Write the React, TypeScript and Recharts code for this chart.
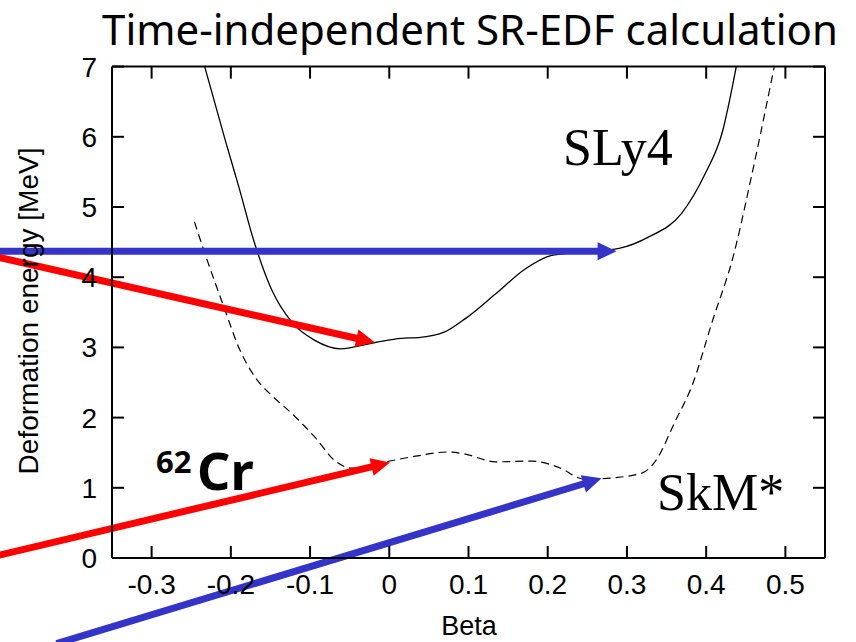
import React from 'react'
import { ComposedChart, Line, XAxis, YAxis, ReferenceLine } from 'recharts'

// SLy4 curve (solid)
const sly4Beta = [
  -0.233, -0.207, -0.19, -0.171, -0.148, -0.123, -0.094, -0.062, -0.018, 0.015, 0.037, 0.07,
  0.096, 0.134, 0.172, 0.205, 0.247, 0.29, 0.327, 0.369, 0.399, 0.42, 0.438,
]
const sly4Energy = [
  7.0, 5.95, 5.29, 4.52, 3.81, 3.36, 3.1, 2.98, 3.07, 3.13, 3.14, 3.22,
  3.41, 3.76, 4.12, 4.31, 4.36, 4.41, 4.57, 4.91, 5.48, 6.05, 7.0,
]

// SkM* curve (dashed)
const skmBeta = [
  -0.246, -0.234, -0.207, -0.19, -0.169, -0.146, -0.127, -0.093, -0.068, -0.047, -0.009, 0.033,
  0.073, 0.096, 0.134, 0.18, 0.214, 0.247, 0.281, 0.319, 0.336, 0.361, 0.382, 0.408, 0.434,
  0.458, 0.486,
]
const skmEnergy = [
  4.79, 4.38, 3.52, 3.0, 2.57, 2.29, 2.1, 1.71, 1.38, 1.28, 1.36, 1.45,
  1.51, 1.48, 1.37, 1.38, 1.29, 1.12, 1.14, 1.21, 1.38, 1.95, 2.45, 3.38, 4.29,
  5.48, 7.0,
]

const xTicks = [-0.3, -0.2, -0.1, 0, 0.1, 0.2, 0.3, 0.4, 0.5]
const yTicks = [0, 1, 2, 3, 4, 5, 6, 7]

// arrows: [beta, energy] start -> end
const arrowColors = ['#3434c8', '#ff0000', '#ff0000', '#3434c8']
const arrowFrom = [
  [-0.5, 4.37],
  [-0.5, 4.3],
  [-0.5, 0.02],
  [-0.42, -1.22],
]
const arrowTo = [
  [0.287, 4.37],
  [-0.018, 3.07],
  [0.001, 1.36],
  [0.268, 1.135],
]

const sly4Data = sly4Beta.map((b, i) => ({ beta: b, e: sly4Energy[i] }))
const skmData = skmBeta.map((b, i) => ({ beta: b, e: skmEnergy[i] }))

const W = 856
const H = 642
const sans = "'Liberation Sans', Arial, Helvetica, sans-serif"
const serif = "'Liberation Serif', 'Times New Roman', serif"
const comic = "'Comic Sans MS', 'Noto Sans', sans-serif"
const TICK = 12
const TICK_FONT = 28

function BottomTick({ x, y, payload }: any) {
  return (
    <g>
      <line x1={x} y1={y} x2={x} y2={y - TICK} stroke="#000" strokeWidth={2} />
      <text x={x} y={y + 36} textAnchor="middle" fontSize={TICK_FONT} fontFamily={sans} fill="#000">
        {payload.value}
      </text>
    </g>
  )
}

function TopTick({ x, y }: any) {
  return <line x1={x} y1={y} x2={x} y2={y + TICK} stroke="#000" strokeWidth={2} />
}

function LeftTick({ x, y, payload }: any) {
  return (
    <g>
      <line x1={x} y1={y} x2={x + TICK} y2={y} stroke="#000" strokeWidth={2} />
      <text x={x - 15} y={y + 10} textAnchor="end" fontSize={TICK_FONT} fontFamily={sans} fill="#000">
        {payload.value}
      </text>
    </g>
  )
}

function RightTick({ x, y }: any) {
  return <line x1={x} y1={y} x2={x - TICK} y2={y} stroke="#000" strokeWidth={2} />
}

function Arrow(props: any) {
  const { x1, y1, x2, y2, color } = props
  const dx = x2 - x1
  const dy = y2 - y1
  const len = Math.sqrt(dx * dx + dy * dy)
  const ux = dx / len
  const uy = dy / len
  const head = 19
  const half = 9
  const bx = x2 - ux * head
  const by = y2 - uy * head
  const pts = `${x2},${y2} ${bx - uy * half},${by + ux * half} ${bx + uy * half},${by - ux * half}`
  return (
    <g>
      <line x1={x1} y1={y1} x2={bx + ux * 2} y2={by + uy * 2} stroke={color} strokeWidth={7} />
      <polygon points={pts} fill={color} />
    </g>
  )
}

export default function App() {
  return (
    <div style={{ position: 'absolute', left: 0, top: 0, width: W, height: H, background: '#fff' }}>
      <ComposedChart width={W} height={H} margin={{ top: 65.6, right: 30, bottom: 83, left: 111 }}>
        <XAxis
          type="number"
          dataKey="beta"
          domain={[-0.35, 0.55]}
          allowDataOverflow
          ticks={xTicks}
          interval={0}
          height={1}
          tickSize={0}
          tickMargin={0}
          tickLine={false}
          tick={<BottomTick />}
          axisLine={{ stroke: '#000', strokeWidth: 2 }}
        />
        <XAxis
          xAxisId="top"
          orientation="top"
          type="number"
          dataKey="beta"
          domain={[-0.35, 0.55]}
          allowDataOverflow
          ticks={xTicks}
          interval={0}
          height={1}
          tickSize={0}
          tickMargin={0}
          tickLine={false}
          tick={<TopTick />}
          axisLine={{ stroke: '#000', strokeWidth: 2 }}
        />
        <YAxis
          type="number"
          domain={[0, 7]}
          allowDataOverflow
          ticks={yTicks}
          interval={0}
          width={1}
          tickSize={0}
          tickMargin={0}
          tickLine={false}
          tick={<LeftTick />}
          axisLine={{ stroke: '#000', strokeWidth: 2 }}
        />
        <YAxis
          yAxisId="right"
          orientation="right"
          type="number"
          domain={[0, 7]}
          allowDataOverflow
          ticks={yTicks}
          interval={0}
          width={1}
          tickSize={0}
          tickMargin={0}
          tickLine={false}
          tick={<RightTick />}
          axisLine={{ stroke: '#000', strokeWidth: 2 }}
        />

        <Line
          data={sly4Data}
          dataKey="e"
          type="monotoneX"
          stroke="#000"
          strokeWidth={1.3}
          dot={false}
          isAnimationActive={false}
        />
        <Line
          data={skmData}
          dataKey="e"
          type="monotoneX"
          stroke="#000"
          strokeWidth={1.2}
          strokeDasharray="8 5"
          dot={false}
          isAnimationActive={false}
        />

        {arrowFrom.map((from, i) => (
          <ReferenceLine
            key={i}
            segment={[
              { x: from[0], y: from[1] },
              { x: arrowTo[i][0], y: arrowTo[i][1] },
            ]}
            ifOverflow="visible"
            shape={(p: any) => <Arrow {...p} color={arrowColors[i]} />}
          />
        ))}
      </ComposedChart>

      <svg
        width={W}
        height={H}
        style={{ position: 'absolute', left: 0, top: 0, pointerEvents: 'none' }}
      >
        <text x={470} y={45} textAnchor="middle" fontSize={42} fontFamily={comic} fill="#000">
          Time-independent SR-EDF calculation
        </text>
        <text x={469} y={635} textAnchor="middle" fontSize={27} fontFamily={sans} fill="#000">
          Beta
        </text>
        <text
          transform="translate(38, 311) rotate(-90)"
          textAnchor="middle"
          fontSize={28}
          fontFamily={sans}
          fill="#000"
        >
          Deformation energy [MeV]
        </text>
        <text x={563} y={165} fontSize={52} fontFamily={serif} fill="#000">
          SLy4
        </text>
        <text x={657} y={510} fontSize={52} fontFamily={serif} fill="#000">
          SkM*
        </text>
        <text x={156} y={473} fontSize={31} fontWeight="bold" fontFamily={comic} fill="#000">
          62
        </text>
        <text x={197} y={490} fontSize={52} fontWeight="bold" fontFamily={comic} fill="#000">
          Cr
        </text>
      </svg>
    </div>
  )
}
